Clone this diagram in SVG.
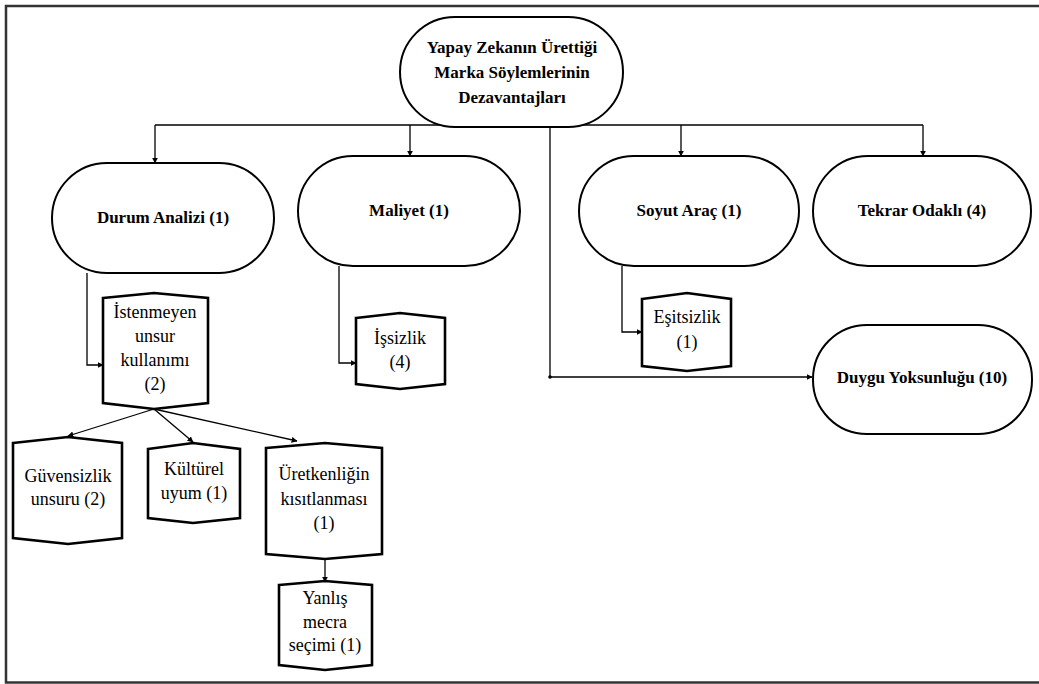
<svg xmlns="http://www.w3.org/2000/svg" width="1039" height="684" viewBox="0 0 1039 684">
  <style>
    .pill { fill: #fff; stroke: #000; stroke-width: 2; }
    .hex { fill: #fff; stroke: #000; stroke-width: 2.6; stroke-linejoin: miter; }
    text { font-family: 'Liberation Serif', 'Times New Roman', Times, 'DejaVu Serif', serif; fill: #000; text-anchor: middle; }
    .title { font-weight: bold; font-size: 17px; }
    .label { font-size: 18px; }
    .wire { fill: none; stroke: #000; stroke-width: 1.3; }
    .frame { fill: none; stroke: #333; stroke-width: 2.5; }
  </style>
  <defs>
    <marker id="arrow" viewBox="0 0 10 10" refX="9" refY="5" markerWidth="6" markerHeight="6" markerUnits="userSpaceOnUse" orient="auto">
      <path d="M0,0 L10,5 L0,10 z" fill="#000"/>
    </marker>
  </defs>

  <rect width="1039" height="684" fill="#fff"/>
  <!-- outer frame (open on the right) -->
  <path class="frame" d="M1039,6 L6,6 L6,682.5 L1039,682.5"/>

  <!-- connectors -->
  <g id="connectors">
    <path class="wire" d="M155,125 L923,125"/>
    <path class="wire" d="M155,125 L155,163" marker-end="url(#arrow)"/>
    <path class="wire" d="M410,125 L410,156" marker-end="url(#arrow)"/>
    <path class="wire" d="M681,125 L681,156" marker-end="url(#arrow)"/>
    <path class="wire" d="M923,125 L923,156" marker-end="url(#arrow)"/>
    <path class="wire" d="M550,125 L550,377 L812,377" marker-end="url(#arrow)"/>
    <circle cx="550" cy="377" r="1.8" fill="#000"/>
    <path class="wire" d="M87,273 L87,365 L103,365" marker-end="url(#arrow)"/>
    <path class="wire" d="M339,266 L339,363 L356,363" marker-end="url(#arrow)"/>
    <path class="wire" d="M622,266 L622,332 L642,332" marker-end="url(#arrow)"/>
    <path class="wire" d="M154,409 L68,436" marker-end="url(#arrow)"/>
    <path class="wire" d="M154,409 L193,442" marker-end="url(#arrow)"/>
    <path class="wire" d="M154,409 L297,441" marker-end="url(#arrow)"/>
    <path class="wire" d="M325,559 L325,582" marker-end="url(#arrow)"/>
  </g>

  <!-- root -->
  <g id="root">
    <rect class="pill" x="400" y="17" width="223" height="110" rx="55" ry="55"/>
    <text class="title" x="512" y="53">Yapay Zekanın Ürettiği</text>
    <text class="title" x="512" y="78">Marka Söylemlerinin</text>
    <text class="title" x="512" y="103">Dezavantajları</text>
  </g>

  <g id="durum-analizi">
    <rect class="pill" x="52" y="163" width="222" height="110" rx="55" ry="55"/>
    <text class="title" x="163" y="223">Durum Analizi (1)</text>
  </g>

  <g id="maliyet">
    <rect class="pill" x="298" y="156" width="222" height="110" rx="55" ry="55"/>
    <text class="title" x="409" y="216">Maliyet (1)</text>
  </g>

  <g id="soyut-arac">
    <rect class="pill" x="579" y="156" width="220" height="110" rx="55" ry="55"/>
    <text class="title" x="689" y="216">Soyut Araç (1)</text>
  </g>

  <g id="tekrar-odakli">
    <rect class="pill" x="813" y="156" width="218" height="110" rx="55" ry="55"/>
    <text class="title" x="922" y="216">Tekrar Odaklı (4)</text>
  </g>

  <g id="duygu-yoksunlugu">
    <rect class="pill" x="813" y="325" width="219" height="109" rx="54" ry="54"/>
    <text class="title" x="922" y="383">Duygu Yoksunluğu (10)</text>
  </g>

  <g id="istenmeyen-unsur">
    <path class="hex" d="M103,298 L154,293 L208,298 L208,403 L154,409 L103,403 Z"/>
    <text class="label" x="155" y="318">İstenmeyen</text>
    <text class="label" x="155" y="342">unsur</text>
    <text class="label" x="155" y="366">kullanımı</text>
    <text class="label" x="155" y="390">(2)</text>
  </g>

  <g id="issizlik">
    <path class="hex" d="M356,318 L400,313 L445,318 L445,384 L400,389 L356,384 Z"/>
    <text class="label" x="400" y="344">İşsizlik</text>
    <text class="label" x="400" y="368">(4)</text>
  </g>

  <g id="esitsizlik">
    <path class="hex" d="M642,299 L687,293 L731,299 L731,366 L687,371 L642,366 Z"/>
    <text class="label" x="687" y="323">Eşitsizlik</text>
    <text class="label" x="687" y="348">(1)</text>
  </g>

  <g id="guvensizlik">
    <path class="hex" d="M13,443 L68,437 L122,443 L122,538 L68,544 L13,538 Z"/>
    <text class="label" x="68" y="482">Güvensizlik</text>
    <text class="label" x="68" y="505">unsuru (2)</text>
  </g>

  <g id="kulturel-uyum">
    <path class="hex" d="M148,449 L193,443 L240,449 L240,518 L193,523 L148,518 Z"/>
    <text class="label" x="194" y="475">Kültürel</text>
    <text class="label" x="194" y="499">uyum (1)</text>
  </g>

  <g id="uretkenlik">
    <path class="hex" d="M266,448 L325,443 L382,448 L382,554 L325,559 L266,554 Z"/>
    <text class="label" x="324" y="480">Üretkenliğin</text>
    <text class="label" x="324" y="505">kısıtlanması</text>
    <text class="label" x="324" y="529">(1)</text>
  </g>

  <g id="yanlis-mecra">
    <path class="hex" d="M279,585 L325,581 L372,585 L372,665 L325,670 L279,665 Z"/>
    <text class="label" x="325" y="604">Yanlış</text>
    <text class="label" x="325" y="628">mecra</text>
    <text class="label" x="325" y="651">seçimi (1)</text>
  </g>
</svg>
